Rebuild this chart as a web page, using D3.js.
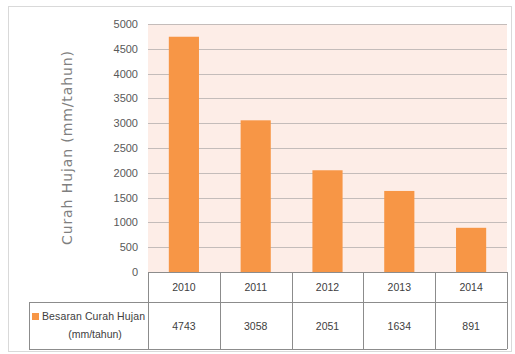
<!DOCTYPE html>
<html>
<head>
<meta charset="utf-8">
<script src="https://cdn.jsdelivr.net/npm/d3@7"></script>
<style>
  body { margin: 0; background: #fff; }
  text { font-family: "Liberation Sans Narrow", "Liberation Sans", Arial, sans-serif; }
</style>
</head>
<body>
<div id="chart"></div>
<script>
const years = ["2010", "2011", "2012", "2013", "2014"];
const curahHujan = [4743, 3058, 2051, 1634, 891];
const yTicks = [0, 500, 1000, 1500, 2000, 2500, 3000, 3500, 4000, 4500, 5000];
const seriesName = ["Besaran Curah Hujan", "(mm/tahun)"];
const yTitle = "Curah Hujan (mm/tahun)";

const width = 515,
    height = 354,
    margin = ({ top: 24, right: 8, bottom: 82, left: 148 });

const svg = d3.select("#chart")
    .append("svg")
    .attr("width", width)
    .attr("height", height);

// outer frame
svg.append("rect")
    .attr("x", 8.5).attr("y", 6.5)
    .attr("width", 503).attr("height", 345)
    .attr("fill", "#fff")
    .attr("stroke", "#d9d9d9");

let x = d3.scaleBand()
    .domain(years)
    .range([margin.left, width - margin.right])
    .paddingInner(0.58)
    .paddingOuter(0.29);

let y = d3.scaleLinear()
    .domain([0, 5000])
    .range([height - margin.bottom, margin.top]);

// plot background
svg.append("rect")
    .attr("x", margin.left)
    .attr("y", margin.top)
    .attr("width", width - margin.right - margin.left)
    .attr("height", y(0) - margin.top)
    .attr("fill", "#fdede7");

// gridlines
svg.append("g")
    .selectAll("line")
    .data(yTicks.filter(d => d > 0))
    .join("line")
    .attr("x1", margin.left)
    .attr("x2", width - margin.right)
    .attr("y1", d => Math.round(y(d)) + 0.5)
    .attr("y2", d => Math.round(y(d)) + 0.5)
    .attr("stroke", "#c4bcba")
    .attr("stroke-width", 1.2);

// y axis
const yAxis = svg.append("g")
    .attr("transform", `translate(${margin.left},0)`)
    .call(d3.axisLeft(y).tickValues(yTicks).tickFormat(d3.format("d")).tickSize(0).tickPadding(10));
yAxis.select(".domain").remove();
yAxis.selectAll("text")
    .attr("font-size", 11)
    .attr("fill", "#595959")
    .attr("font-family", "Liberation Sans Narrow, Arial, sans-serif");

// axis title
svg.append("text")
    .attr("transform", `translate(72,${(margin.top + y(0)) / 2}) rotate(-90)`)
    .attr("text-anchor", "middle")
    .attr("font-size", 14)
    .attr("fill", "#7f7f7f")
    .attr("textLength", 194)
    .style("font-family", "DejaVu Sans, sans-serif")
    .text(yTitle);

// bars
svg.append("g")
    .selectAll("rect")
    .data(curahHujan)
    .join("rect")
    .attr("x", (d, i) => x(years[i]))
    .attr("y", d => y(d))
    .attr("width", x.bandwidth())
    .attr("height", d => y(0) - y(d))
    .attr("fill", "#f79646");

// data table
const rowTop = y(0),
    rowMid = rowTop + 30,
    rowBot = 349,
    tableLeft = 29;
const step = x.step();
const colEdges = years.map((d, i) => margin.left + i * step).concat([width - margin.right]);

const table = svg.append("g")
    .attr("stroke", "#8c8c8c")
    .attr("stroke-width", 1);

table.append("line")
    .attr("x1", margin.left).attr("x2", width - margin.right)
    .attr("y1", rowTop + 0.5).attr("y2", rowTop + 0.5);
table.append("line")
    .attr("x1", tableLeft).attr("x2", width - margin.right)
    .attr("y1", rowMid + 0.5).attr("y2", rowMid + 0.5);
table.append("line")
    .attr("x1", tableLeft).attr("x2", width - margin.right)
    .attr("y1", rowBot + 0.5).attr("y2", rowBot + 0.5);
table.append("line")
    .attr("x1", tableLeft + 0.5).attr("x2", tableLeft + 0.5)
    .attr("y1", rowMid).attr("y2", rowBot);
table.selectAll(".col")
    .data(colEdges)
    .join("line")
    .attr("class", "col")
    .attr("x1", d => Math.round(d) + 0.5)
    .attr("x2", d => Math.round(d) + 0.5)
    .attr("y1", rowTop)
    .attr("y2", rowBot);

svg.append("g")
    .selectAll("text")
    .data(years)
    .join("text")
    .attr("x", d => x(d) + x.bandwidth() / 2)
    .attr("y", (rowTop + rowMid) / 2 + 4)
    .attr("text-anchor", "middle")
    .attr("font-size", 10.5)
    .attr("fill", "#404040")
    .text(d => d);

svg.append("g")
    .selectAll("text")
    .data(curahHujan)
    .join("text")
    .attr("x", (d, i) => x(years[i]) + x.bandwidth() / 2)
    .attr("y", (rowMid + rowBot) / 2 + 4)
    .attr("text-anchor", "middle")
    .attr("font-size", 10.5)
    .attr("fill", "#404040")
    .text(d => d);

// legend key in table
svg.append("rect")
    .attr("x", 32).attr("y", 313)
    .attr("width", 7).attr("height", 7)
    .attr("fill", "#f79646");

svg.append("text")
    .attr("x", 42).attr("y", 320)
    .attr("font-size", 10.5)
    .attr("fill", "#404040")
    .attr("textLength", 103)
    .text(seriesName[0]);

svg.append("text")
    .attr("x", 95).attr("y", 338)
    .attr("text-anchor", "middle")
    .attr("font-size", 10.5)
    .attr("fill", "#404040")
    .text(seriesName[1]);
</script>
</body>
</html>
